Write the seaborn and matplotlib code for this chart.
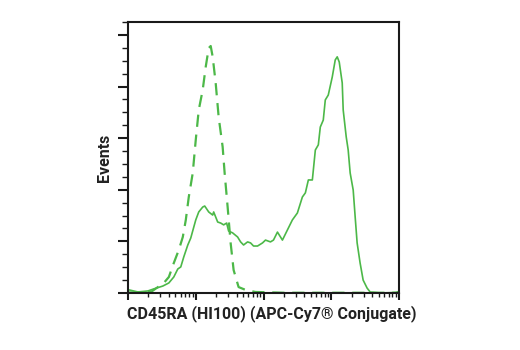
import numpy as np
import pandas as pd
import matplotlib
matplotlib.use("Agg")
import matplotlib.pyplot as plt
import matplotlib.ticker as mticker
import seaborn as sns

# Solid curve (CD45RA APC-Cy7)
solid_x = [10.0, 10.4, 14.0, 19.7, 24.1, 32.7, 40.1, 47.4, 54.3, 60.1, 66.6, 76.3, 84.4, 100, 110.7,
           126.7, 135.6, 155.3, 177.8, 183.9, 210.7, 233.4, 258.2, 285.8, 305.6, 349.9, 414.7,
           459.2, 508.2, 582.2, 644.6, 713.3, 816.6, 966.7, 1070, 1267, 1403, 1607, 1902, 2252,
           2667, 3162, 3749, 4150, 4593, 5260, 5823, 6444, 6892, 7625, 8166, 9036, 10350, 11450,
           12250, 13120, 14520, 15010, 16630, 17780, 19020, 21080, 22540, 24100, 26680, 29560,
           33820, 37480, 52600, 90000, 100000]
solid_y = [1.0, 1.2, 0.4, 0.8, 1.6, 2.7, 3.9, 6.2, 9.3, 10.1, 14.0, 18.6, 21.3, 28.3, 31.4,
           33.3, 33.7, 31.4, 30.2, 31.4, 27.5, 27.1, 26.4, 27.1, 24.0, 23.3, 21.7,
           19.8, 18.6, 19.8, 19.4, 18.2, 18.2, 19.4, 20.5, 19.8, 20.5, 23.6, 20.5, 24.4,
           28.3, 31.0, 37.2, 38.8, 43.8, 43.8, 55.4, 57.4, 64.3, 67.0, 74.8, 76.7, 83.7, 90.3,
           91.5, 89.5, 81.4, 70.9, 60.5, 55.4, 46.5, 39.9, 29.5, 19.4, 11.6, 5.0,
           1.9, 0.4, 0.0, 0.2, 0.6]

# Dashed curve (isotype control)
dashed_x = [10.0, 15.0, 21.8, 33.8, 40.1, 47.4, 56.2, 64.4, 71.3, 78.9, 90.3, 100, 110.7, 126.7,
            140.3, 155.3, 166.2, 177.8, 196.8, 217.8, 249.5, 266.9, 295.6, 327.2, 362.2,
            428.8, 543.6, 762, 2000, 100000]
dashed_y = [0.2, 0.3, 0.4, 3.9, 6.2, 11.6, 16.7, 21.7, 28.3, 37.2, 46.5, 59.3, 70.9, 78.7,
            87.6, 94.9, 95.7, 91.5, 81.4, 68.2, 56.6, 46.5, 33.3, 19.4, 8.9,
            2.3, 1.2, 0.4, 0.1, 0.1]

x_label = "CD45RA (HI100) (APC-Cy7\u00ae Conjugate)"
y_label = "Events"

sns.set_style("ticks")
plt.rcParams['font.family'] = ['Roboto', 'DejaVu Sans']

green = "#4CB848"
fig = plt.figure(figsize=(5.2, 3.5), dpi=100)
ax = fig.add_axes([128/520, 1-293/350, (399-128)/520, (293-22)/350])

df_s = pd.DataFrame({"x": solid_x, "y": solid_y})
df_d = pd.DataFrame({"x": dashed_x, "y": dashed_y})
sns.lineplot(data=df_d, x="x", y="y", ax=ax, color=green, lw=1.6, linestyle=(0, (5.5, 3.5)),
             estimator=None, sort=False)
sns.lineplot(data=df_s, x="x", y="y", ax=ax, color=green, lw=1.2, estimator=None, sort=False)

ax.set_xscale("log")
ax.set_xlim(10, 1e5)
ax.set_ylim(0, 105)

ax.xaxis.set_major_locator(mticker.LogLocator(base=10, numticks=10))
ax.xaxis.set_minor_locator(mticker.LogLocator(base=10, subs=np.arange(2, 10), numticks=20))
ax.yaxis.set_major_locator(mticker.MultipleLocator(20))
ax.yaxis.set_minor_locator(mticker.MultipleLocator(5))
ax.xaxis.set_major_formatter(mticker.NullFormatter())
ax.xaxis.set_minor_formatter(mticker.NullFormatter())
ax.yaxis.set_major_formatter(mticker.NullFormatter())

for s in ax.spines.values():
    s.set_visible(True)
    s.set_linewidth(1.5)
    s.set_color("#1a1a1a")

ax.tick_params(axis="y", which="major", direction="out", length=7, width=1.5, color="#1a1a1a")
ax.tick_params(axis="y", which="minor", direction="out", length=4, width=1.0, color="#1a1a1a")
ax.tick_params(axis="x", which="major", direction="out", length=5, width=1.5, color="#1a1a1a")
ax.tick_params(axis="x", which="minor", direction="out", length=3, width=1.0, color="#1a1a1a")

ax.set_xlabel(x_label, fontsize=11.5, fontweight="bold", color="#222222")
ax.set_ylabel(y_label, fontsize=11.5, fontweight="bold", color="#222222")
ax.xaxis.label.set_va("center")
ax.yaxis.label.set_va("center")
ax.xaxis.set_label_coords((272-128)/271, (293-314)/271)
ax.yaxis.set_label_coords((105-128)/271, 0.5)

fig.savefig("out.png", dpi=100)
